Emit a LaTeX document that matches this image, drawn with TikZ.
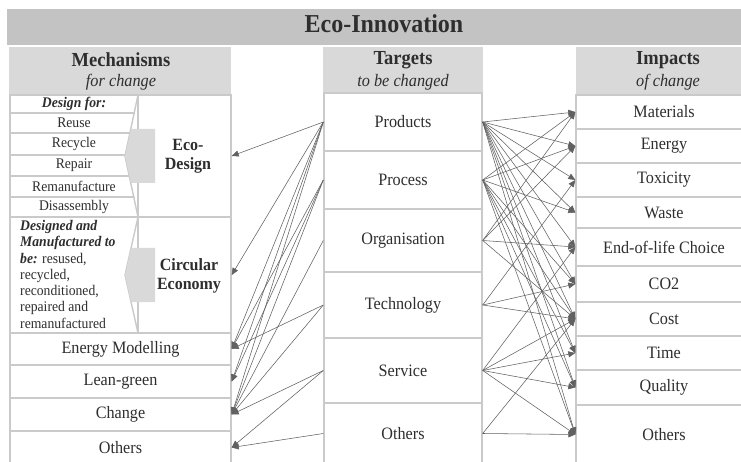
\documentclass[tikz,border=0pt]{standalone}
\usepackage{fontspec}
\setmainfont{Liberation Serif}[FakeStretch=0.93]
\usetikzlibrary{arrows.meta}

\definecolor{bandgray}{HTML}{C3C3C3}
\definecolor{headgray}{HTML}{D9D9D9}
\definecolor{rulegray}{HTML}{CACACA}
\definecolor{inkgray}{HTML}{2E2E2E}

\tikzset{
  cell/.style={draw=rulegray,line width=1.4pt,fill=white,inner sep=0pt,text=inkgray,font=\fontsize{17.4}{19}\selectfont},
  listcell/.style={cell,font=\fontsize{14.7}{16}\selectfont},
  headtxt/.style={inner sep=0pt,text=inkgray,font=\bfseries\fontsize{19.9}{22}\selectfont},
  subtxt/.style={inner sep=0pt,text=inkgray,font=\itshape\fontsize{17.5}{20}\selectfont},
  boldtxt/.style={inner sep=0pt,text=inkgray,align=center,font=\bfseries\fontsize{17.2}{19}\selectfont},
  link/.style={draw=black!62,line width=0.55pt,-{Triangle[length=7pt,width=6pt]}},
}

\begin{document}
\begin{tikzpicture}[x=1pt,y=-1pt]
\useasboundingbox (0,0) rectangle (741,462);
\fill[white](0,0) rectangle (741,462);

% banner and column heads
\fill[bandgray](7,9) rectangle (745,45);
\node[inner sep=0pt,text=inkgray,font=\bfseries\fontsize{25.8}{28}\selectfont] (title) at (384,24) {Eco-Innovation};
\fill[headgray](9,47) rectangle (231,95);
\fill[headgray](323,47) rectangle (483,93);
\fill[headgray](576,47) rectangle (745,95);
\node[headtxt] (mechhead) at (121,60) {Mechanisms};
\node[subtxt] (mechsub) at (121,82) {for change};
\node[headtxt] (targhead) at (403,60) {Targets};
\node[subtxt] (targsub) at (403,82) {to be changed};
\node[headtxt] (imphead) at (668,60) {Impacts};
\node[subtxt] (impsub) at (668,82) {of change};

% mechanisms: design-for list
\node[listcell,minimum width=128,minimum height=18] (designfor) at (74,104) {\textbf{\textit{Design for:}}};
\node[listcell,minimum width=128,minimum height=20] (reuse) at (74,123) {Reuse};
\node[listcell,minimum width=128,minimum height=22] (recycle) at (74,144) {Recycle};
\node[listcell,minimum width=128,minimum height=21] (repair) at (74,165.5) {Repair};
\node[listcell,minimum width=128,minimum height=21] (reman) at (74,186.5) {Remanufacture};
\node[listcell,minimum width=128,minimum height=20] (disasm) at (74,207) {Disassembly};
\draw[draw=rulegray,line width=1.4pt,fill=white](10,217) rectangle (138,333);
\node[anchor=north west,inner sep=0pt,align=left,text=inkgray,font=\fontsize{14.7}{16.3}\selectfont] (circtext) at (20,220)
  {\textbf{\textit{Designed and}}\\ \textbf{\textit{Manufactured to}}\\ \textbf{\textit{be:}} resused,\\ recycled,\\ reconditioned,\\ repaired and\\ remanufactured};

% chevrons
\fill[white](139,96) -- (125,156) -- (139,216) -- cycle;
\fill[white](139,218) -- (125,275) -- (139,332) -- cycle;
\node[cell,minimum width=93,minimum height=122] (ecodesign) at (184.5,156) {};
\node[cell,minimum width=93,minimum height=116] (circular) at (184.5,275) {};
\draw[rulegray,line width=1.4pt](138,95) -- (125,156) -- (138,217) -- (125,275) -- (138,333);
\fill[headgray](155,129) -- (131,129) -- (125,156) -- (131,183) -- (155,183) -- cycle;
\fill[headgray](155,248) -- (131,248) -- (125,275) -- (131,302) -- (155,302) -- cycle;
\node[boldtxt] (ecotxt) at (188,156) {Eco-\\Design};
\node[boldtxt] (circtxt) at (189,276) {Circular\\Economy};

% mechanisms: single rows
\node[cell,minimum width=221,minimum height=32] (energymod) at (120.5,349) {Energy Modelling};
\node[cell,minimum width=221,minimum height=33] (leangreen) at (120.5,381.5) {Lean-green};
\node[cell,minimum width=221,minimum height=33] (change) at (120.5,414.5) {Change};
\node[cell,minimum width=221,minimum height=33] (mothers) at (120.5,447.5) {Others};

% targets
\node[cell,minimum width=158,minimum height=58] (products) at (403,122) {Products};
\node[cell,minimum width=158,minimum height=58] (process) at (403,180) {Process};
\node[cell,minimum width=158,minimum height=63] (organisation) at (403,240.5) {Organisation};
\node[cell,minimum width=158,minimum height=66] (technology) at (403,305) {Technology};
\node[cell,minimum width=158,minimum height=65] (service) at (403,370.5) {Service};
\node[cell,minimum width=158,minimum height=61] (tothers) at (403,433.5) {Others};

% impacts
\node[cell,minimum width=176,minimum height=34] (materials) at (664,112) {Materials};
\node[cell,minimum width=176,minimum height=34] (energy) at (664,146) {Energy};
\node[cell,minimum width=176,minimum height=34] (toxicity) at (664,180) {Toxicity};
\node[cell,minimum width=176,minimum height=31] (waste) at (664,212.5) {Waste};
\node[cell,minimum width=176,minimum height=38] (endoflife) at (664,247) {End-of-life Choice};
\node[cell,minimum width=176,minimum height=36] (cotwo) at (664,284) {CO2};
\node[cell,minimum width=176,minimum height=34] (cost) at (664,319) {Cost};
\node[cell,minimum width=176,minimum height=34] (time) at (664,353) {Time};
\node[cell,minimum width=176,minimum height=35] (quality) at (664,387.5) {Quality};
\node[cell,minimum width=176,minimum height=59] (iothers) at (664,434.5) {Others};

% targets -> mechanisms
\foreach \m in {ecodesign,circular,energymod,leangreen,change}
  \draw[link](products.west) -- (\m.east);
\foreach \m in {energymod,leangreen,change}
  \draw[link](process.west) -- (\m.east);
\draw[link](organisation.west) -- (change.east);
\foreach \m in {energymod,change}
  \draw[link](technology.west) -- (\m.east);
\foreach \m in {change,mothers}
  \draw[link](service.west) -- (\m.east);
\draw[link](tothers.west) -- (mothers.east);

% targets -> impacts
\foreach \i in {materials,energy,toxicity,waste,endoflife,cotwo,cost,time,quality,iothers}
  \draw[link](products.east) -- (\i.west);
\foreach \i in {materials,energy,waste,cotwo,cost,time,quality,iothers}
  \draw[link](process.east) -- (\i.west);
\foreach \i in {materials,energy,endoflife,cost}
  \draw[link](organisation.east) -- (\i.west);
\foreach \i in {toxicity,cotwo,cost}
  \draw[link](technology.east) -- (\i.west);
\foreach \i in {endoflife,cost,time,quality,iothers}
  \draw[link](service.east) -- (\i.west);
\foreach \i in {cost,iothers}
  \draw[link](tothers.east) -- (\i.west);
\end{tikzpicture}
\end{document}
